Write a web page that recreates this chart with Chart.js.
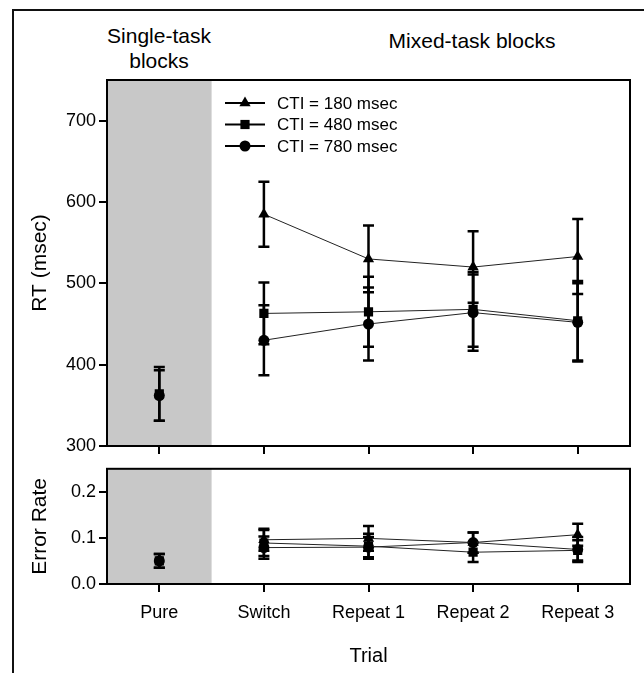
<!DOCTYPE html>
<html lang="en">
<head>
    <meta charset="UTF-8">
    <title>RT and error rate by trial type</title>
    <script src="https://cdn.jsdelivr.net/npm/chart.js"></script>
    <style>
        * { margin: 0; padding: 0; box-sizing: border-box; }
        body {
            width: 644px;
            height: 673px;
            background: #fff;
            color: #000;
            position: relative;
            overflow: hidden;
            font-family: 'Liberation Sans', Arial, sans-serif;
        }
        .frame {
            position: absolute;
            left: 12px;
            top: 9px;
            width: 660px;
            height: 700px;
            border-left: 2px solid #111;
            border-top: 2px solid #111;
        }
        .head {
            position: absolute;
            font-size: 21px;
            line-height: 25px;
            text-align: center;
        }
        #single { left: 99px; top: 23px; width: 120px; }
        #mixed { left: 362px; top: 28px; width: 220px; }
        .box { position: absolute; left: 0; }
        #rtBox { top: 0; }
        #errBox { top: 455px; }
    </style>
</head>
<body>
    <div class="frame"></div>
    <div class="head" id="single">Single-task<br>blocks</div>
    <div class="head" id="mixed">Mixed-task blocks</div>
    <div class="box" id="rtBox"><canvas id="rtChart" width="644" height="470"></canvas></div>
    <div class="box" id="errBox"><canvas id="errChart" width="644" height="218"></canvas></div>

    <script>
        // categories and series
        const trials = ['Pure', 'Switch', 'Repeat 1', 'Repeat 2', 'Repeat 3'];
        const ctiLabels = ['CTI = 180 msec', 'CTI = 480 msec', 'CTI = 780 msec'];

        const rt180 = [null, 585, 530, 520, 533];
        const rt480 = [364, 463, 465, 468, 454];
        const rt780 = [362, 430, 450, 464, 452];
        const rt180Err = [null, 40, 41, 44, 46];
        const rt480Err = [33, 38, 43, 46, 49];
        const rt780Err = [31, 43, 45, 47, 48];

        const er180 = [null, 0.096, 0.099, 0.090, 0.107];
        const er480 = [0.050, 0.089, 0.082, 0.069, 0.073];
        const er780 = [0.050, 0.079, 0.080, 0.090, 0.075];
        const er180Err = [null, 0.024, 0.027, 0.022, 0.024];
        const er480Err = [0.015, 0.028, 0.027, 0.021, 0.022];
        const er780Err = [0.015, 0.024, 0.022, 0.022, 0.027];

        const rtTicks = [300, 400, 500, 600, 700];
        const errTicks = [0, 0.1, 0.2];

        const FONT = "'Liberation Sans', Arial, sans-serif";
        const markers = ['triangle', 'rect', 'circle'];
        const radii = [6.5, 6.5, 5.5];

        function makeSets(series, errs) {
            return series.map((vals, i) => ({
                label: ctiLabels[i],
                data: vals,
                errors: errs[i],
                borderColor: '#222',
                borderWidth: 1,
                pointStyle: markers[i],
                pointRadius: radii[i],
                pointHoverRadius: radii[i],
                pointBackgroundColor: '#000',
                pointBorderColor: '#000',
                pointBorderWidth: 0,
                tension: 0,
                spanGaps: false,
                // pure blocks are not joined to the mixed-block line
                segment: { borderColor: c => c.p0DataIndex === 0 ? 'rgba(0,0,0,0)' : '#222' }
            }));
        }

        // gray single-task band, error bars, box around plot
        const panelPlugin = {
            id: 'panel',
            beforeDatasetsDraw(chart) {
                const { ctx, chartArea: a, scales: { x, y } } = chart;
                const mid = (x.getPixelForValue(0) + x.getPixelForValue(1)) / 2;
                ctx.save();
                ctx.fillStyle = '#c8c8c8';
                ctx.fillRect(a.left, a.top, mid - a.left, a.bottom - a.top);
                ctx.strokeStyle = '#000';
                ctx.lineWidth = 2.5;
                chart.data.datasets.forEach(ds => {
                    ds.data.forEach((v, i) => {
                        const e = ds.errors[i];
                        if (v == null || e == null) return;
                        const px = x.getPixelForValue(i);
                        const top = y.getPixelForValue(v + e);
                        const bot = y.getPixelForValue(v - e);
                        ctx.beginPath();
                        ctx.moveTo(px, top); ctx.lineTo(px, bot);
                        ctx.moveTo(px - 5.5, top); ctx.lineTo(px + 5.5, top);
                        ctx.moveTo(px - 5.5, bot); ctx.lineTo(px + 5.5, bot);
                        ctx.stroke();
                    });
                });
                ctx.restore();
            },
            afterDraw(chart) {
                const { ctx, chartArea: a } = chart;
                ctx.save();
                ctx.strokeStyle = '#000';
                ctx.lineWidth = 2;
                ctx.strokeRect(a.left, a.top, a.right - a.left, a.bottom - a.top);
                ctx.restore();
            }
        };

        // legend inside the RT panel: line + marker + text
        const legendPlugin = {
            id: 'ctiLegend',
            afterDatasetsDraw(chart) {
                const { ctx, chartArea: a } = chart;
                ctx.save();
                ctx.font = '17px ' + FONT;
                ctx.textBaseline = 'middle';
                ctx.fillStyle = '#000';
                ctx.strokeStyle = '#000';
                chart.data.datasets.forEach((ds, i) => {
                    const yy = a.top + 23 + i * 21.5;
                    const x0 = a.left + 118;
                    ctx.lineWidth = 2;
                    ctx.beginPath();
                    ctx.moveTo(x0, yy);
                    ctx.lineTo(x0 + 40, yy);
                    ctx.stroke();
                    Chart.helpers.drawPoint(ctx, { pointStyle: ds.pointStyle, radius: ds.pointRadius, borderWidth: 0, rotation: 0 }, x0 + 20, yy);
                    ctx.fillText(ds.label, x0 + 52, yy + 1);
                });
                ctx.restore();
            }
        };

        function axisX(showLabels, height) {
            return {
                type: 'category',
                offset: true,
                grid: { display: true, offset: false, drawOnChartArea: false, drawTicks: true, tickLength: 8, color: '#000', lineWidth: 2 },
                border: { display: false },
                ticks: { display: showLabels, color: '#000', padding: 10, font: { family: FONT, size: 18 } },
                title: { display: showLabels, text: 'Trial', color: '#000', padding: { top: 0, bottom: 5 }, font: { family: FONT, size: 20 } },
                afterFit: s => { s.height = height; }
            };
        }

        function axisY(min, max, ticks, title, fmt) {
            return {
                type: 'linear',
                min: min,
                max: max,
                afterBuildTicks: s => { s.ticks = ticks.map(v => ({ value: v })); },
                grid: { display: true, drawOnChartArea: false, drawTicks: true, tickLength: 8, color: '#000', lineWidth: 2 },
                border: { display: false },
                ticks: { color: '#000', padding: 3, font: { family: FONT, size: 18 }, callback: fmt },
                title: { display: true, text: title, color: '#000', padding: { top: 28, bottom: 0 }, font: { family: FONT, size: 21 } },
                afterFit: s => { s.width = 107; }
            };
        }

        const common = {
            responsive: false,
            animation: false,
            plugins: { legend: { display: false }, tooltip: { enabled: false } }
        };

        new Chart(document.getElementById('rtChart'), {
            type: 'line',
            data: {
                labels: trials,
                datasets: makeSets([rt180, rt480, rt780], [rt180Err, rt480Err, rt780Err])
            },
            options: {
                ...common,
                layout: { padding: { top: 80, right: 14, left: 0, bottom: 0 } },
                scales: {
                    x: axisX(false, 24),
                    y: axisY(300, 750, rtTicks, 'RT (msec)', v => v)
                }
            },
            plugins: [panelPlugin, legendPlugin]
        });

        new Chart(document.getElementById('errChart'), {
            type: 'line',
            data: {
                labels: trials,
                datasets: makeSets([er180, er480, er780], [er180Err, er480Err, er780Err])
            },
            options: {
                ...common,
                layout: { padding: { top: 12, right: 14, left: 0, bottom: 0 } },
                scales: {
                    x: axisX(true, 89),
                    y: axisY(0, 0.25, errTicks, 'Error Rate', v => v.toFixed(1))
                }
            },
            plugins: [panelPlugin]
        });
    </script>
</body>
</html>
